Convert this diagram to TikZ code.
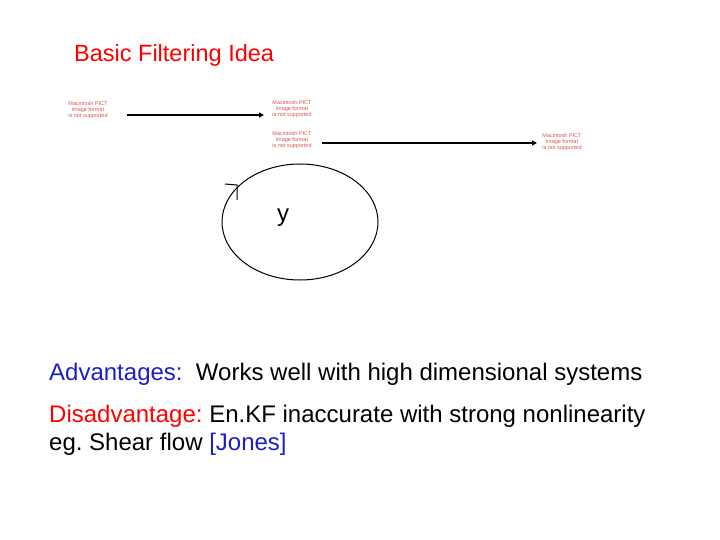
\documentclass[tikz,border=0pt]{standalone}
\usepackage{fontspec}
\setmainfont{Liberation Sans}
\usetikzlibrary{arrows.meta}
\definecolor{pict}{RGB}{220,80,80}
\definecolor{blu}{RGB}{30,30,200}
\frenchspacing
\begin{document}
\begin{tikzpicture}[x=1pt,y=-1pt,
  pictbox/.style={text=pict,font=\fontsize{5.5}{6}\selectfont,align=center,inner sep=0pt},
  txt/.style={anchor=west,inner sep=0pt,font=\fontsize{24}{28}\selectfont},
  arr/.style={line width=1.4pt,-{Triangle[length=5pt,width=5pt]}}]
\useasboundingbox (0,0) rectangle (720,540);
\node[txt,text=red,font=\fontsize{23.5}{26}\selectfont] (title) at (74,55) {Basic Filtering Idea};
\node[pictbox] (p1) at (88,110) {Macintosh PICT\\image format\\is not supported};
\node[pictbox] (p2) at (292,109) {Macintosh PICT\\image format\\is not supported};
\node[pictbox] (p3) at (292,140) {Macintosh PICT\\image format\\is not supported};
\node[pictbox] (p4) at (562,142) {Macintosh PICT\\image format\\is not supported};
\coordinate (a1) at (127,115); \coordinate (a2) at (264,115);
\coordinate (b1) at (322,143); \coordinate (b2) at (537,143);
\draw[arr] (a1) -- (a2);
\draw[arr] (b1) -- (b2);
\draw[line width=1pt] (300,222) ellipse [x radius=78, y radius=58];
\coordinate (m) at (237,185);
\draw[line width=1pt] (225,184) -- (m) -- (237,200);
\node[txt] (y) at (277,218) {y};
\node[txt] (adv) at (49,374) {\textcolor{blu}{Advantages:}\ \ Works well with high dimensional systems};
\node[txt] (dis) at (49,416) {\textcolor{red}{Disadvantage:} En.KF inaccurate with strong nonlinearity};
\node[txt] (eg) at (49,444) {eg. Shear flow \textcolor{blu}{[Jones]}};
\end{tikzpicture}
\end{document}
